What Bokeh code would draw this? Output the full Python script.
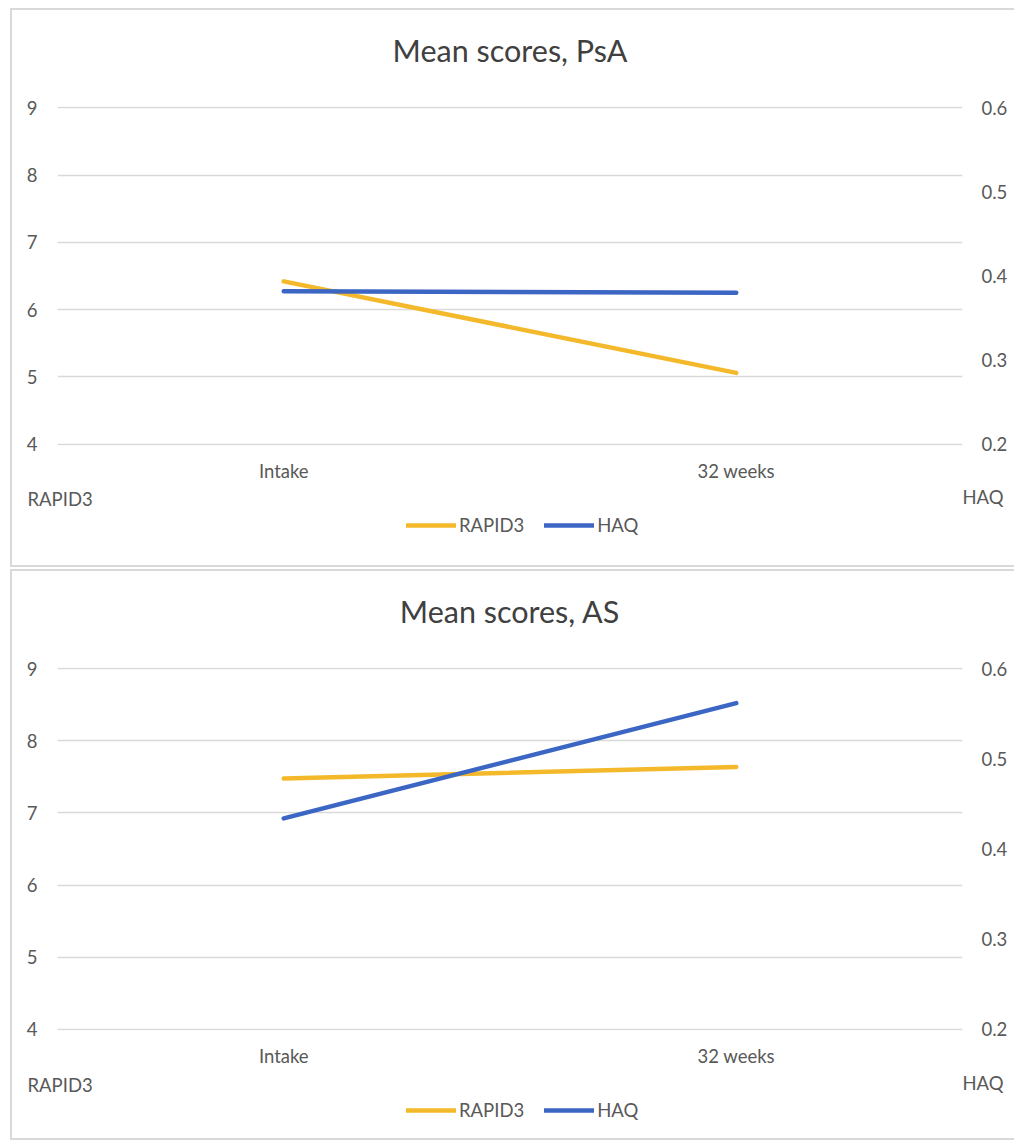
from bokeh.plotting import figure
from bokeh.models import (Range1d, LinearAxis, FixedTicker, Legend, LegendItem,
                          Label, BasicTickFormatter, FactorRange, Title)
from bokeh.layouts import column
from bokeh.embed import file_html
from bokeh.resources import INLINE

# ---- data ----
CATEGORIES = ["Intake", "32 weeks"]
RAPID3_TICKS = [4, 5, 6, 7, 8, 9]
HAQ_TICKS = [0.2, 0.3, 0.4, 0.5, 0.6]
SERIES_NAMES = ["RAPID3", "HAQ"]

PSA_TITLE = "Mean scores, PsA"
PSA_RAPID3 = [6.42, 5.06]
PSA_HAQ = [0.382, 0.380]

AS_TITLE = "Mean scores, AS"
AS_RAPID3 = [7.48, 7.64]
AS_HAQ = [0.434, 0.562]

# ---- style ----
RAPID3_COLOR = "#F4B92A"
HAQ_COLOR = "#3C66C4"
TEXT_COLOR = "#595959"
TITLE_COLOR = "#404040"
GRID_COLOR = "#d9d9d9"
FONT = "Lato"
BORDER = "2px solid #d9d9d9"
W = 1002
LINE_W = 4.5
TICK_FONT = "18.5px"


def no_align(p):
    if "frame_align" in type(p).properties():
        p.frame_align = False


def make_chart(title, rapid, haq, height):
    # small padding so that the gridlines at 4 and 9 are not lost at the frame edge
    pad = 0.004 * (RAPID3_TICKS[-1] - RAPID3_TICKS[0])
    hpad = 0.004 * (HAQ_TICKS[-1] - HAQ_TICKS[0])
    p = figure(width=W, height=height, title=None,
               x_range=FactorRange(factors=CATEGORIES),
               y_range=Range1d(RAPID3_TICKS[0] - pad, RAPID3_TICKS[-1] + pad),
               output_backend="svg", toolbar_location=None,
               min_border_left=45, min_border_right=52,
               min_border_top=96, min_border_bottom=41)
    no_align(p)
    p.outline_line_color = None
    p.background_fill_color = "white"
    p.border_fill_color = "white"

    # spacer title (nearest the frame) pushes the real title upward
    p.add_layout(Title(text=" ", text_font_size="1px", standoff=31), "above")
    p.add_layout(Title(text=title, align="center", text_font=FONT,
                       text_font_size="30.5px", text_font_style="normal",
                       text_color=TITLE_COLOR, standoff=10), "above")

    p.extra_y_ranges = {"haq": Range1d(HAQ_TICKS[0] - hpad, HAQ_TICKS[-1] + hpad)}
    right = LinearAxis(y_range_name="haq", ticker=FixedTicker(ticks=HAQ_TICKS),
                       formatter=BasicTickFormatter(precision=1))
    p.add_layout(right, "right")

    for ax in [p.xaxis[0], p.yaxis[0], right]:
        ax.axis_line_color = None
        ax.major_tick_line_color = None
        ax.minor_tick_line_color = None
        ax.major_label_text_font = FONT
        ax.major_label_text_font_size = TICK_FONT
        ax.major_label_text_color = TEXT_COLOR
    p.yaxis[0].ticker = FixedTicker(ticks=RAPID3_TICKS)
    p.yaxis[0].major_label_standoff = 14
    right.major_label_standoff = 13
    p.xaxis[0].major_label_standoff = 8

    p.xgrid.visible = False
    p.ygrid.grid_line_color = GRID_COLOR
    p.ygrid.grid_line_width = 1.5

    p.line(CATEGORIES, rapid, line_color=RAPID3_COLOR, line_width=LINE_W,
           line_cap="round")
    p.line(CATEGORIES, haq, y_range_name="haq", line_color=HAQ_COLOR,
           line_width=LINE_W, line_cap="round")
    return p


def make_strip(height, rapid, haq, base_left, base_right, legend_mid):
    # strip under the chart: axis names and legend
    s = figure(width=W, height=height, title=None,
               x_range=Range1d(0, W), y_range=Range1d(0, height),
               x_axis_type=None, y_axis_type=None,
               output_backend="svg", toolbar_location=None)
    no_align(s)
    s.min_border = 0
    s.min_border_left = 0
    s.min_border_right = 0
    s.min_border_top = 0
    s.min_border_bottom = 0
    s.outline_line_color = None
    s.background_fill_color = "white"
    s.border_fill_color = "white"
    s.xgrid.visible = False
    s.ygrid.visible = False

    idx = list(range(len(CATEGORIES)))
    l1 = s.line(idx, rapid, line_color=RAPID3_COLOR, line_width=LINE_W,
                line_cap="round", visible=False)
    l2 = s.line(idx, haq, line_color=HAQ_COLOR, line_width=LINE_W,
                line_cap="round", visible=False)
    legend = Legend(items=[LegendItem(label=SERIES_NAMES[0], renderers=[l1]),
                           LegendItem(label=SERIES_NAMES[1], renderers=[l2])],
                    orientation="horizontal",
                    location=(394, height - legend_mid - 11),
                    border_line_color=None, background_fill_alpha=0,
                    label_text_font=FONT, label_text_font_size=TICK_FONT,
                    label_text_color=TEXT_COLOR, glyph_width=50,
                    glyph_height=20, label_standoff=3, spacing=20,
                    padding=0, margin=0)
    s.add_layout(legend)

    s.add_layout(Label(x=15, y=height - base_left, text=SERIES_NAMES[0],
                       text_align="left", text_baseline="alphabetic",
                       text_font=FONT, text_font_size=TICK_FONT,
                       text_color=TEXT_COLOR))
    s.add_layout(Label(x=991, y=height - base_right, text=SERIES_NAMES[1],
                       text_align="right", text_baseline="alphabetic",
                       text_font=FONT, text_font_size=TICK_FONT,
                       text_color=TEXT_COLOR))
    return s


panel_styles = {"border-left": BORDER, "border-top": BORDER,
                "border-bottom": BORDER}
panel1 = column(make_chart(PSA_TITLE, PSA_RAPID3, PSA_HAQ, 476),
                make_strip(79, PSA_RAPID3, PSA_HAQ, 12.5, 10.5, 39),
                spacing=0, styles=panel_styles)
panel2 = column(make_chart(AS_TITLE, AS_RAPID3, AS_HAQ, 500),
                make_strip(67, AS_RAPID3, AS_HAQ, 13.5, 11.5, 39),
                spacing=0, styles=panel_styles)
layout = column(panel1, panel2, spacing=2, margin=(8, 0, 0, 10))

open("out.html", "w").write(file_html(layout, INLINE))
